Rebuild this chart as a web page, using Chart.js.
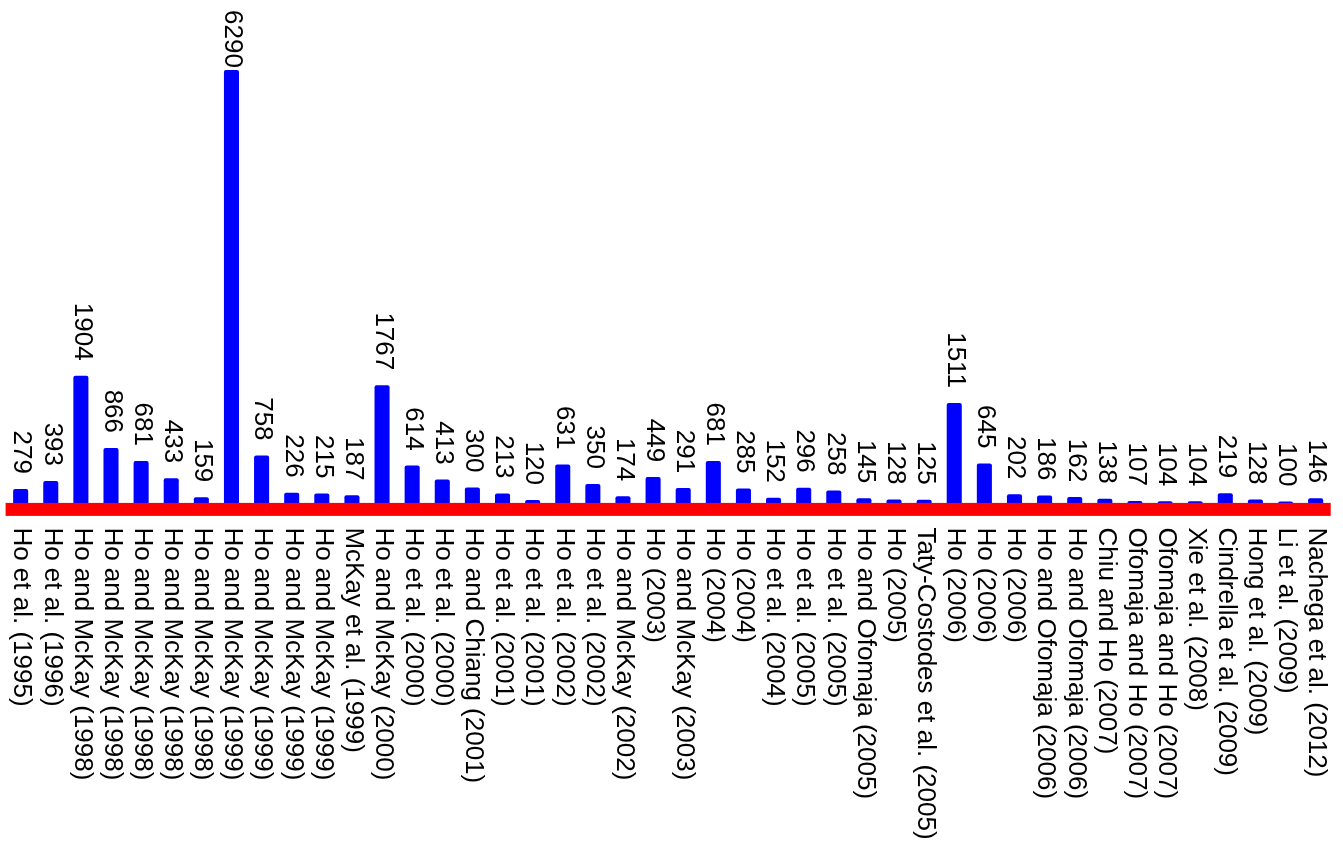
<!DOCTYPE html>
<html>
<head>
<meta charset="utf-8">
<script src="https://cdn.jsdelivr.net/npm/chart.js@4"></script>
<style>
  body { margin: 0; background: #fff; }
  #wrap { width: 1343px; height: 850px; position: relative; }
</style>
</head>
<body>
<div id="wrap"><canvas id="citeChart"></canvas></div>
<script>
const studies = [
    'Ho et al. (1995)', 'Ho et al. (1996)', 'Ho and McKay (1998)', 'Ho and McKay (1998)',
    'Ho and McKay (1998)', 'Ho and McKay (1998)', 'Ho and McKay (1998)', 'Ho and McKay (1999)',
    'Ho and McKay (1999)', 'Ho and McKay (1999)', 'Ho and McKay (1999)', 'McKay et al. (1999)',
    'Ho and McKay (2000)', 'Ho et al. (2000)', 'Ho et al. (2000)', 'Ho and Chiang (2001)',
    'Ho et al. (2001)', 'Ho et al. (2001)', 'Ho et al. (2002)', 'Ho et al. (2002)',
    'Ho and McKay (2002)', 'Ho (2003)', 'Ho and McKay (2003)', 'Ho (2004)',
    'Ho (2004)', 'Ho et al. (2004)', 'Ho et al. (2005)', 'Ho et al. (2005)',
    'Ho and Ofomaja (2005)', 'Ho (2005)', 'Taty-Costodes et al. (2005)', 'Ho (2006)',
    'Ho (2006)', 'Ho (2006)', 'Ho and Ofomaja (2006)', 'Ho and Ofomaja (2006)',
    'Chiu and Ho (2007)', 'Ofomaja and Ho (2007)', 'Ofomaja and Ho (2007)', 'Xie et al. (2008)',
    'Cindrella et al. (2009)', 'Hong et al. (2009)', 'Li et al. (2009)', 'Nachega et al. (2012)'
];

const citations = [
    279, 393, 1904, 866, 681, 433, 159, 6290, 758, 226, 215, 187,
    1767, 614, 413, 300, 213, 120, 631, 350, 174, 449, 291, 681,
    285, 152, 296, 258, 145, 128, 125, 1511, 645, 202, 186, 162,
    138, 107, 104, 104, 219, 128, 100, 146
];

const FONT = '26px "Liberation Sans", Arial, sans-serif';

// rotated labels (reading downwards) + thick red baseline
const rotatedLabels = {
    id: 'rotatedLabels',
    afterDatasetsDraw(chart) {
        const { ctx, chartArea, scales } = chart;
        const y0 = scales.y.getPixelForValue(0);

        // red axis line over the bar bottoms
        ctx.save();
        ctx.fillStyle = '#ff0000';
        ctx.fillRect(chartArea.left, y0 - 5.5, chartArea.right - chartArea.left, 13);
        ctx.restore();

        const meta = chart.getDatasetMeta(0);
        ctx.save();
        ctx.font = FONT;
        ctx.fillStyle = '#000';
        ctx.textBaseline = 'middle';
        meta.data.forEach((bar, i) => {
            // value above the bar
            const txt = String(citations[i]);
            const w = ctx.measureText(txt).width;
            let end = bar.y - 15;
            if (end - w < 10) end = 10 + w;
            ctx.save();
            ctx.translate(bar.x + 1, end);
            ctx.rotate(Math.PI / 2);
            ctx.textAlign = 'right';
            ctx.fillText(txt, 0, 0);
            ctx.restore();

            // category below the red line
            ctx.save();
            ctx.translate(bar.x + 1, y0 + 19);
            ctx.rotate(Math.PI / 2);
            ctx.textAlign = 'left';
            ctx.fillText(studies[i], 0, 0);
            ctx.restore();
        });
        ctx.restore();
    }
};

const ctx = document.getElementById('citeChart').getContext('2d');
new Chart(ctx, {
    type: 'bar',
    data: {
        labels: studies,
        datasets: [{
            data: citations,
            backgroundColor: '#0000ff',
            borderRadius: 2,
            barPercentage: 0.5,
            categoryPercentage: 1.0
        }]
    },
    options: {
        responsive: true,
        maintainAspectRatio: false,
        animation: false,
        layout: { padding: { left: 5.6, right: 12.3, top: 0, bottom: 341.6 } },
        scales: {
            x: { display: false },
            y: { display: false, min: 0, max: 7294 }
        },
        plugins: {
            legend: { display: false },
            tooltip: { enabled: false }
        }
    },
    plugins: [rotatedLabels]
});
</script>
</body>
</html>
